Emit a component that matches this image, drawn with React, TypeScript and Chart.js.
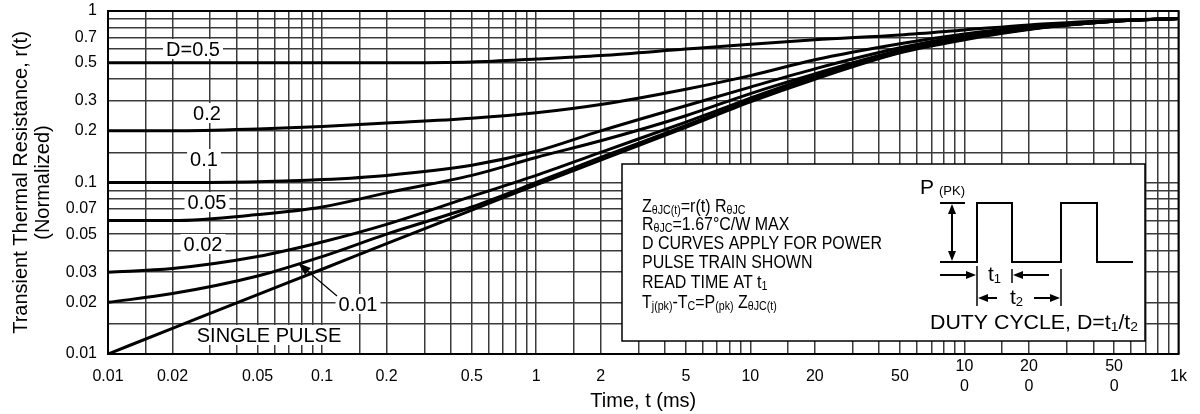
import React, { useEffect, useRef } from 'react';
import { Chart, registerables } from 'chart.js';
Chart.register(...registerables);

const FONT = '"Liberation Sans", Arial, Helvetica, sans-serif';

// Time axis (ms)
const times = [0.01, 0.02, 0.05, 0.1, 0.2, 0.5, 1, 2, 5, 10, 20, 50, 100, 200, 500, 1000];
// Normalized transient thermal resistance r(t) for each duty cycle
const d50 = [0.5, 0.5, 0.5, 0.5, 0.5, 0.505, 0.525, 0.55, 0.6, 0.64, 0.68, 0.725, 0.775, 0.83, 0.88, 0.905];
const d20 = [0.2, 0.2, 0.205, 0.212, 0.222, 0.237, 0.255, 0.285, 0.35, 0.42, 0.52, 0.645, 0.735, 0.81, 0.875, 0.905];
const d10 = [0.1, 0.1, 0.101, 0.104, 0.11, 0.126, 0.152, 0.2, 0.28, 0.36, 0.46, 0.61, 0.715, 0.795, 0.875, 0.905];
const d05 = [0.06, 0.06, 0.065, 0.072, 0.087, 0.11, 0.14, 0.175, 0.245, 0.33, 0.43, 0.59, 0.7, 0.79, 0.87, 0.905];
const d02 = [0.03, 0.0315, 0.037, 0.045, 0.057, 0.083, 0.11, 0.15, 0.225, 0.31, 0.42, 0.58, 0.69, 0.785, 0.87, 0.905];
const d01 = [0.02, 0.0225, 0.0285, 0.037, 0.05, 0.072, 0.1, 0.14, 0.215, 0.3, 0.41, 0.575, 0.69, 0.785, 0.87, 0.905];
const single = [0.01, 0.0141, 0.0222, 0.0312, 0.044, 0.069, 0.097, 0.135, 0.21, 0.295, 0.4, 0.57, 0.68, 0.78, 0.87, 0.905];

const seriesNames = ['D=0.5', '0.2', '0.1', '0.05', '0.02', '0.01', 'SINGLE PULSE'];
const seriesValues = [d50, d20, d10, d05, d02, d01, single];

// Tick labels
const xLabelValues = [0.01, 0.02, 0.05, 0.1, 0.2, 0.5, 1, 2, 5, 10, 20, 50, 100, 200, 500, 1000];
const xLabelTexts: (string | string[])[] = ['0.01', '0.02', '0.05', '0.1', '0.2', '0.5', '1', '2', '5', '10', '20', '50', ['10', '0'], ['20', '0'], ['50', '0'], '1k'];
const yLabelValues = [1, 0.7, 0.5, 0.3, 0.2, 0.1, 0.07, 0.05, 0.03, 0.02, 0.01];
const yLabelTexts = ['1', '0.7', '0.5', '0.3', '0.2', '0.1', '0.07', '0.05', '0.03', '0.02', '0.01'];

// Grid multipliers per decade
const gridMultipliers = [1, 1.5, 2, 3, 4, 5, 6, 7, 8, 9];

function gridValues(minExp: number, maxExp: number) {
  const out: number[] = [];
  for (let e = minExp; e < maxExp; e++) {
    for (const m of gridMultipliers) out.push(parseFloat((m * Math.pow(10, e)).toPrecision(6)));
  }
  out.push(Math.pow(10, maxExp));
  return out;
}

function findLabel(v: number, vals: number[], texts: any[]) {
  for (let i = 0; i < vals.length; i++) {
    if (Math.abs(Math.log10(v) - Math.log10(vals[i])) < 1e-6) return texts[i];
  }
  return '';
}

type Seg = { t: string; sub?: boolean };

function drawRich(ctx: CanvasRenderingContext2D, x: number, y: number, segs: Seg[], size: number, subSize: number, sx: number) {
  ctx.save();
  ctx.translate(x, y);
  ctx.scale(sx, 1);
  ctx.textBaseline = 'middle';
  ctx.textAlign = 'left';
  let cx = 0;
  for (const s of segs) {
    ctx.font = `${s.sub ? subSize : size}px ${FONT}`;
    ctx.fillText(s.t, cx, s.sub ? size * 0.22 : 0);
    cx += ctx.measureText(s.t).width;
  }
  ctx.restore();
}

function richWidth(ctx: CanvasRenderingContext2D, segs: Seg[], size: number, subSize: number) {
  let w = 0;
  for (const s of segs) {
    ctx.font = `${s.sub ? subSize : size}px ${FONT}`;
    w += ctx.measureText(s.t).width;
  }
  return w;
}

function arrowHead(ctx: CanvasRenderingContext2D, x: number, y: number, fromX: number, fromY: number, len = 10, half = 4) {
  const ang = Math.atan2(y - fromY, x - fromX);
  ctx.beginPath();
  ctx.moveTo(x, y);
  ctx.lineTo(x - len * Math.cos(ang) + half * Math.sin(ang), y - len * Math.sin(ang) - half * Math.cos(ang));
  ctx.lineTo(x - len * Math.cos(ang) - half * Math.sin(ang), y - len * Math.sin(ang) + half * Math.cos(ang));
  ctx.closePath();
  ctx.fill();
}

function line(ctx: CanvasRenderingContext2D, pts: number[][], w = 2) {
  ctx.lineWidth = w;
  ctx.beginPath();
  ctx.moveTo(pts[0][0], pts[0][1]);
  for (let i = 1; i < pts.length; i++) ctx.lineTo(pts[i][0], pts[i][1]);
  ctx.stroke();
}

const annotationPlugin = {
  id: 'annotations',
  afterDraw(chart: any) {
    const ctx: CanvasRenderingContext2D = chart.ctx;
    const { left, right, top, bottom } = chart.chartArea;
    ctx.save();
    ctx.strokeStyle = '#000';
    ctx.fillStyle = '#000';
    // frame
    line(ctx, [[left, top], [right, top], [right, bottom]], 2);

    // curve labels with white background
    const labels: [string, number, number][] = [
      ['D=0.5', 193, 49],
      ['0.2', 207, 113],
      ['0.1', 204, 159],
      ['0.05', 207, 202],
      ['0.02', 203, 244],
      ['0.01', 358, 304],
      ['SINGLE PULSE', 269, 335],
    ];
    ctx.font = `20px ${FONT}`;
    ctx.textAlign = 'center';
    ctx.textBaseline = 'middle';
    for (const [t, x, y] of labels) {
      const w = ctx.measureText(t).width;
      ctx.fillStyle = '#fff';
      ctx.fillRect(x - w / 2 - 3, y - 10, w + 6, 20);
      ctx.fillStyle = '#000';
      ctx.fillText(t, x, y + 1);
    }
    // leader for 0.01
    ctx.lineWidth = 1.2;
    ctx.beginPath();
    ctx.moveTo(337, 296);
    ctx.lineTo(304, 268);
    ctx.stroke();
    arrowHead(ctx, 298, 263, 337, 296, 13, 4.5);

    // legend box
    const bx = 622, by = 164, bw = 523, bh = 177;
    ctx.fillStyle = '#fff';
    ctx.fillRect(bx, by, bw, bh);
    ctx.strokeStyle = '#000';
    ctx.lineWidth = 1.5;
    ctx.strokeRect(bx, by, bw, bh);
    ctx.fillStyle = '#000';

    const lines: Seg[][] = [
      [{ t: 'Z' }, { t: 'θJC(t)', sub: true }, { t: '=r(t) R' }, { t: 'θJC', sub: true }],
      [{ t: 'R' }, { t: 'θJC', sub: true }, { t: '=1.67°C/W MAX' }],
      [{ t: 'D CURVES APPLY FOR POWER' }],
      [{ t: 'PULSE TRAIN SHOWN' }],
      [{ t: 'READ TIME AT t' }, { t: '1', sub: true }],
      [{ t: 'T' }, { t: 'j(pk)', sub: true }, { t: '-T' }, { t: 'C', sub: true }, { t: '=P' }, { t: '(pk)', sub: true }, { t: ' Z' }, { t: 'θJC(t)', sub: true }],
    ];
    const ly = [207, 225, 244, 263, 283, 303];
    const sx = 240 / richWidth(ctx, lines[2], 18, 12);
    lines.forEach((segs, i) => drawRich(ctx, 642, ly[i], segs, 18, 12, sx));

    // pulse diagram
    ctx.strokeStyle = '#000';
    drawRich(ctx, 920, 188, [{ t: 'P' }], 21, 13, 1);
    drawRich(ctx, 939, 191, [{ t: '(PK)' }], 13, 13, 1);
    line(ctx, [[940, 203], [965, 203]], 2);
    line(ctx, [[952, 212], [952, 253]], 2);
    arrowHead(ctx, 952, 204, 952, 230, 10, 4);
    arrowHead(ctx, 952, 261, 952, 230, 10, 4);
    line(ctx, [[940, 262], [977, 262], [977, 203], [1012, 203], [1012, 262], [1061, 262], [1061, 203], [1097, 203], [1097, 262], [1133, 262]], 2);
    // t1
    line(ctx, [[940, 275], [968, 275]], 2);
    arrowHead(ctx, 976, 275, 940, 275, 10, 4);
    line(ctx, [[1021, 275], [1049, 275]], 2);
    arrowHead(ctx, 1013, 275, 1049, 275, 10, 4);
    line(ctx, [[977, 266], [977, 306]], 1.5);
    line(ctx, [[1012, 269], [1012, 283]], 1.5);
    line(ctx, [[1061, 269], [1061, 306]], 1.5);
    drawRich(ctx, 988, 275, [{ t: 't' }, { t: '1', sub: true }], 21, 13, 1);
    // t2
    line(ctx, [[985, 298], [997, 298]], 2);
    arrowHead(ctx, 978, 298, 997, 298, 10, 4);
    line(ctx, [[1034, 298], [1052, 298]], 2);
    arrowHead(ctx, 1060, 298, 1034, 298, 10, 4);
    drawRich(ctx, 1010, 298, [{ t: 't' }, { t: '2', sub: true }], 21, 13, 1);
    // duty cycle
    const duty: Seg[] = [{ t: 'DUTY CYCLE, D=t' }, { t: '1', sub: true }, { t: '/t' }, { t: '2', sub: true }];
    const dsx = 208 / richWidth(ctx, duty, 20, 13);
    drawRich(ctx, 930, 323, duty, 20, 13, dsx);

    ctx.restore();
  },
};

export default function App() {
  const ref = useRef<HTMLCanvasElement | null>(null);
  useEffect(() => {
    if (!ref.current) return;
    Chart.defaults.font.family = FONT;
    Chart.defaults.color = '#000';
    const xGrid = gridValues(-2, 3);
    const yGrid = gridValues(-2, 0);
    const chart = new Chart(ref.current, {
      type: 'line',
      data: {
        datasets: seriesValues.map((vals, i) => ({
          label: seriesNames[i],
          data: times.map((t, j) => ({ x: t, y: vals[j] })),
          borderColor: '#000',
          borderWidth: 3,
          pointRadius: 0,
          fill: false,
          cubicInterpolationMode: 'monotone' as const,
        })),
      },
      options: {
        responsive: false,
        devicePixelRatio: 1,
        animation: false,
        layout: { padding: { left: 0, right: 17, top: 11, bottom: 0 } },
        plugins: { legend: { display: false }, tooltip: { enabled: false } },
        scales: {
          x: {
            type: 'logarithmic',
            min: 0.01,
            max: 1000,
            afterBuildTicks: (scale: any) => {
              scale.ticks = xGrid.map((v) => ({ value: v }));
            },
            afterFit: (scale: any) => {
              scale.height = 60;
            },
            grid: { color: '#3a3a3a', lineWidth: 1.5, drawTicks: false },
            border: { display: true, color: '#000', width: 2 },
            ticks: {
              autoSkip: false,
              maxRotation: 0,
              minRotation: 0,
              padding: 13,
              crossAlign: 'center',
              font: { size: 16, lineHeight: 1.25 },
              color: '#000',
              callback: (v: any) => findLabel(Number(v), xLabelValues, xLabelTexts),
            },
            title: {
              display: true,
              text: 'Time, t (ms)',
              font: { size: 20, lineHeight: 1.2 },
              color: '#000',
              padding: { top: 0, bottom: 1 },
            },
          },
          y: {
            type: 'logarithmic',
            min: 0.01,
            max: 1,
            afterBuildTicks: (scale: any) => {
              scale.ticks = yGrid.map((v) => ({ value: v }));
            },
            afterFit: (scale: any) => {
              scale.width = 108;
              scale.paddingTop = 0;
              scale.paddingBottom = 0;
            },
            grid: { color: '#3a3a3a', lineWidth: 1.5, drawTicks: false },
            border: { display: true, color: '#000', width: 2 },
            ticks: {
              autoSkip: false,
              padding: 11,
              font: { size: 16 },
              color: '#000',
              callback: (v: any) => findLabel(Number(v), yLabelValues, yLabelTexts),
            },
            title: {
              display: true,
              text: ['Transient Thermal Resistance, r(t)', '(Normalized)'],
              font: { size: 20, lineHeight: 1.1 },
              color: '#000',
              padding: { top: 10, bottom: 0 },
            },
          },
        },
      },
      plugins: [annotationPlugin],
    } as any);
    return () => chart.destroy();
  }, []);
  return (
    <div style={{ position: 'fixed', left: 0, top: 0, width: 1200, height: 414, background: '#fff' }}>
      <canvas ref={ref} width={1200} height={414} style={{ display: 'block', width: 1200, height: 414 }} />
    </div>
  );
}
